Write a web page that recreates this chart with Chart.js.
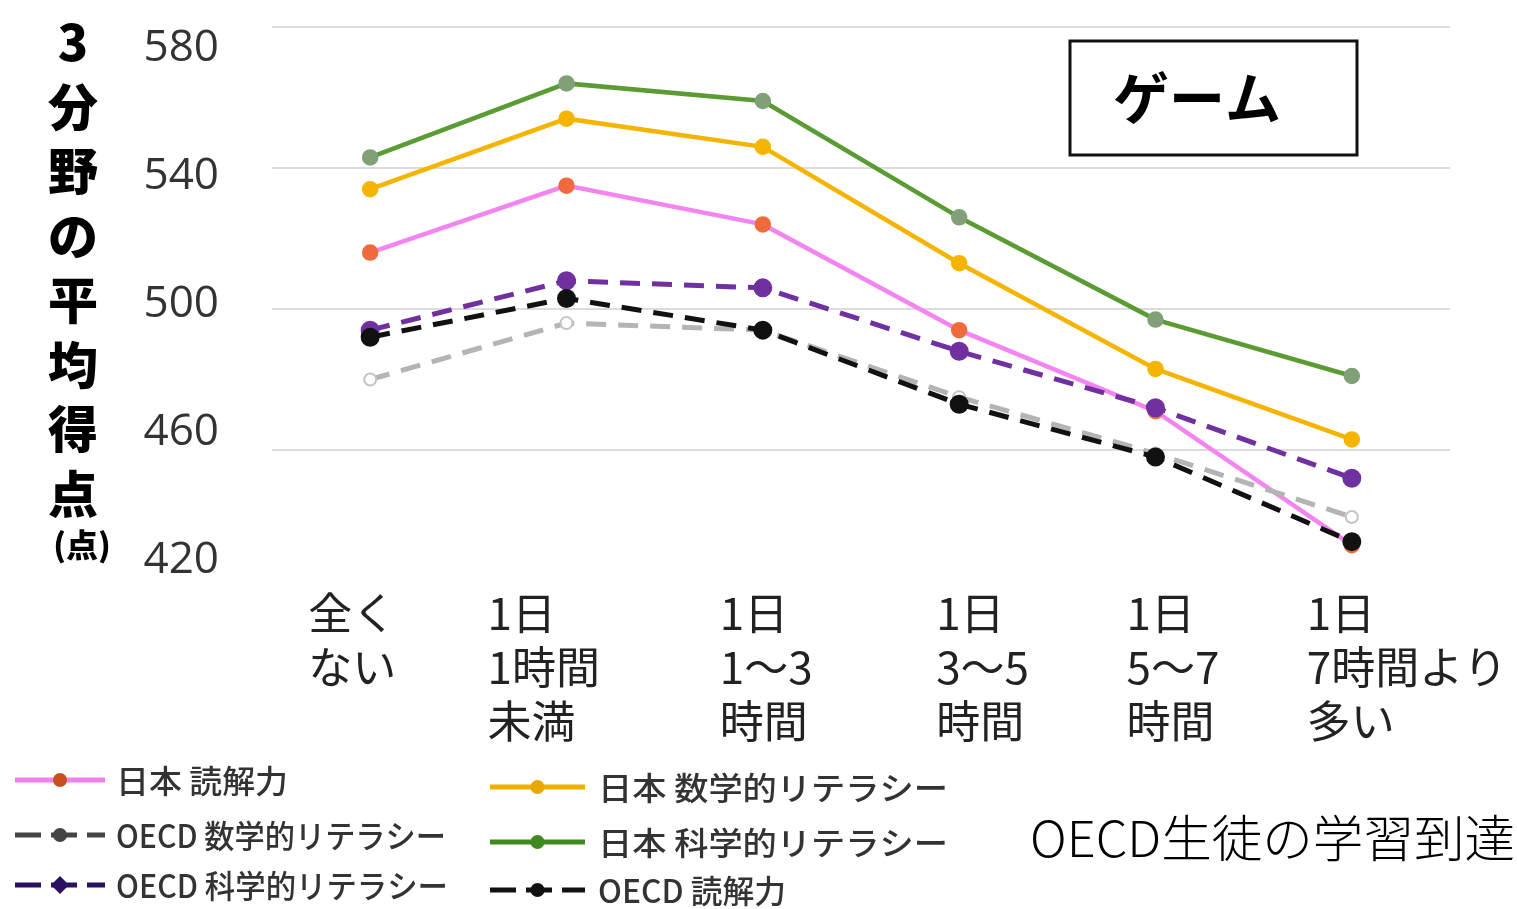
<!DOCTYPE html>
<html lang="ja">
<head>
<meta charset="utf-8">
<script src="https://cdn.jsdelivr.net/npm/chart.js@4/dist/chart.umd.min.js"></script>
<style>
  html, body { margin: 0; padding: 0; background: #fff; }
  #wrap { width: 1517px; height: 909px; position: relative; }
</style>
</head>
<body>
<div id="wrap"><canvas id="gameChart" width="1517" height="909"></canvas></div>
<script>
const categories = [
    ['全く', 'ない'],
    ['1日', '1時間', '未満'],
    ['1日', '1～3', '時間'],
    ['1日', '3～5', '時間'],
    ['1日', '5～7', '時間'],
    ['1日', '7時間より', '多い']
];

const jpnReading  = [516, 535, 524, 494, 471, 433];
const jpnMath     = [534, 554, 546, 513, 483, 463];
const jpnScience  = [543, 564, 559, 526, 497, 481];
const oecdMath    = [480, 496, 494, 475, 459, 441];
const oecdScience = [494, 508, 506, 488, 472, 452];
const oecdReading = [492, 503, 494, 473, 458, 434];

const yTicks = [580, 540, 500, 460, 420];

const yTitle = ['3', '分', '野', 'の', '平', '均', '得', '点'];
const panelTitle = 'ゲーム';
const sourceNote = 'OECD生徒の学習到達';

const CJK = '"Noto Sans CJK JP", "Noto Sans", sans-serif';

function series(label, data, color, marker, dashed, order, extra) {
    return Object.assign({
        label,
        data,
        order,
        borderColor: color,
        backgroundColor: marker,
        pointBackgroundColor: marker,
        pointBorderColor: marker,
        pointRadius: 6,
        pointHoverRadius: 6,
        borderWidth: dashed ? 5 : 4.5,
        borderDash: dashed ? [20, 12] : [],
        tension: 0
    }, extra || {});
}

// legend order: column 1 then column 2, with the text width seen in the original
const legendSlots = [
    { ds: 0, col: 0, row: 0, w: 172 },
    { ds: 3, col: 0, row: 1, w: 330 },
    { ds: 4, col: 0, row: 2, w: 332 },
    { ds: 1, col: 1, row: 0, w: 350 },
    { ds: 2, col: 1, row: 1, w: 350 },
    { ds: 5, col: 1, row: 2, w: 188 }
];

const decorations = {
    id: 'decorations',
    beforeDraw(chart) {
        const ctx = chart.ctx;
        ctx.save();
        ctx.fillStyle = '#fff';
        ctx.fillRect(0, 0, chart.width, chart.height);
        ctx.restore();
    },
    afterDraw(chart) {
        const ctx = chart.ctx;
        const x = chart.scales.x;
        ctx.save();

        // y title, one character per line
        ctx.fillStyle = '#000';
        ctx.textAlign = 'center';
        ctx.textBaseline = 'middle';
        ctx.font = `900 50px ${CJK}`;
        yTitle.forEach((ch, i) => {
            ctx.fillText(ch, 73, 42 + i * 64.5);
        });
        ctx.font = `900 32px ${CJK}`;
        ctx.fillText('(点)', 82, 545);

        // y tick labels (their column sits a little off the grid in the original)
        ctx.fillStyle = '#333';
        ctx.textAlign = 'right';
        ctx.font = '44px "Open Sans", "Noto Sans", sans-serif';
        yTicks.forEach(v => {
            const py = 48 + (580 - v) * (560 - 48) / 160;
            ctx.fillText(String(v), 219, py);
        });

        // x category labels, left aligned under each point
        const xOffsets = [-62, -79, -43, -23, -29, -45];
        ctx.textAlign = 'left';
        ctx.fillStyle = '#222';
        ctx.font = `44px ${CJK}`;
        categories.forEach((lines, i) => {
            const px = x.getPixelForValue(i) + xOffsets[i];
            lines.forEach((t, j) => {
                ctx.fillText(t, px, 613 + j * 54);
            });
        });

        // panel title box
        ctx.fillStyle = '#fff';
        ctx.fillRect(1070, 41, 287, 114);
        ctx.strokeStyle = '#111';
        ctx.lineWidth = 3;
        ctx.strokeRect(1070, 41, 287, 114);
        ctx.fillStyle = '#000';
        ctx.textAlign = 'center';
        ctx.font = `700 56px ${CJK}`;
        ctx.fillText(panelTitle, 1197, 98);

        // legend
        const colX = [[15, 105, 116], [490, 585, 598]];
        const rowY = [[780, 835, 885], [787, 842, 890]];
        const legendColor = ['#f080ee', '#f0b000', '#3f8a1f', '#444', '#2a1060', '#111'];
        const legendMarker = ['#c9501e', '#e8a800', '#3f8a1f', '#444', '#2a1060', '#111'];
        ctx.textAlign = 'left';
        legendSlots.forEach(s => {
            const ds = chart.data.datasets[s.ds];
            const [x0, x1, tx] = colX[s.col];
            const ly = rowY[s.col][s.row];
            ctx.strokeStyle = legendColor[s.ds];
            ctx.lineWidth = 5;
            ctx.setLineDash(ds.borderDash.length ? [26, 10] : []);
            ctx.beginPath();
            ctx.moveTo(x0, ly);
            ctx.lineTo(x1, ly);
            ctx.stroke();
            ctx.setLineDash([]);
            ctx.fillStyle = legendMarker[s.ds];
            ctx.beginPath();
            if (s.ds === 4) {
                const cx = (x0 + x1) / 2;
                ctx.moveTo(cx, ly - 9);
                ctx.lineTo(cx + 9, ly);
                ctx.lineTo(cx, ly + 9);
                ctx.lineTo(cx - 9, ly);
                ctx.closePath();
            } else {
                ctx.arc((x0 + x1) / 2, ly, 7, 0, Math.PI * 2);
            }
            ctx.fill();
            ctx.fillStyle = '#333';
            ctx.font = `500 32px ${CJK}`;
            const tw = ctx.measureText(ds.label).width;
            ctx.save();
            ctx.translate(tx, ly + 1);
            ctx.scale(s.w / tw, 1);
            ctx.fillText(ds.label, 0, 0);
            ctx.restore();
        });

        // source note
        ctx.fillStyle = '#000';
        ctx.font = `300 50px ${CJK}`;
        const w = ctx.measureText(sourceNote).width;
        ctx.translate(1030, 838);
        ctx.scale(485 / w, 1);
        ctx.fillText(sourceNote, 0, 0);

        ctx.restore();
    }
};

new Chart(document.getElementById('gameChart'), {
    type: 'line',
    data: {
        labels: categories,
        datasets: [
            series('日本 読解力', jpnReading, '#f385f0', '#ef6a3c', false, 4),
            series('日本 数学的リテラシー', jpnMath, '#f5b400', '#f5b400', false, 5),
            series('日本 科学的リテラシー', jpnScience, '#5b9b34', '#82a078', false, 6),
            series('OECD 数学的リテラシー', oecdMath, '#b4b4b4', '#ffffff', true, 3, {
                pointBorderColor: '#c4c4c4',
                pointBorderWidth: 2
            }),
            series('OECD 科学的リテラシー', oecdScience, '#7030a0', '#7030a0', true, 2, { pointRadius: 7 }),
            series('OECD 読解力', oecdReading, '#111111', '#111111', true, 1, { pointRadius: 7 })
        ]
    },
    options: {
        responsive: false,
        animation: false,
        events: [],
        layout: {
            padding: { left: 272, right: 67, top: 27, bottom: 318 }
        },
        plugins: {
            legend: { display: false },
            tooltip: { enabled: false }
        },
        scales: {
            x: {
                offset: true,
                ticks: { display: false },
                grid: { display: false, drawTicks: false },
                border: { display: false }
            },
            y: {
                min: 420,
                max: 580,
                ticks: { display: false, stepSize: 40 },
                grid: {
                    drawTicks: false,
                    lineWidth: 2,
                    color: ctx => ctx.tick && ctx.tick.value === 420 ? 'rgba(0,0,0,0)' : '#dcdcdc'
                },
                border: { display: false }
            }
        }
    },
    plugins: [decorations]
});
</script>
</body>
</html>
